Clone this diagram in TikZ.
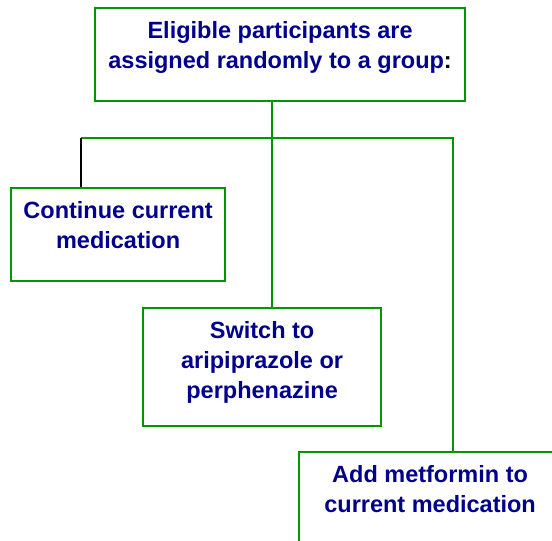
\documentclass[tikz,border=0pt]{standalone}
\usepackage{fontspec}
\setmainfont{Liberation Sans}
\usepackage{tikz}
\usetikzlibrary{positioning,calc}
\definecolor{boxgreen}{RGB}{0,150,0}
\definecolor{textblue}{RGB}{0,0,140}
\tikzset{
  group box/.style={
    draw=boxgreen,
    line width=2.2pt,
    fill=white,
    inner sep=0pt,
    anchor=north west
  },
  group text/.style={
    text=textblue,
    align=center,
    anchor=north,
    inner sep=0pt,
    font=\bfseries\fontsize{23.5}{30}\selectfont
  },
  link/.style={
    draw=boxgreen,
    line width=2.2pt
  }
}

\begin{document}
\begin{tikzpicture}[x=1pt,y=-1pt]
    \useasboundingbox (0,0) rectangle (552,541);
    \clip (0,0) rectangle (552,541);
    % boxes
    \node[group box,minimum width=370pt,minimum height=93pt] (start) at (94,7) {};
    \node[group box,minimum width=214pt,minimum height=93pt] (continue) at (10,187) {};
    \node[group box,minimum width=238pt,minimum height=118pt] (switch) at (142,307) {};
    \node[group box,minimum width=262pt,minimum height=110pt] (add) at (298,451) {};
    % texts
    \node[group text,below=14pt of start.north] (start_t) {Eligible participants are\\assigned randomly to a group\textcolor{black}{:}};
    \node[group text,below=14pt of continue.north] (continue_t) {Continue current\\medication};
    \node[group text,below=14pt of switch.north] (switch_t) {Switch to\\aripiprazole or\\perphenazine};
    \node[group text,below=14pt of add.north] (add_t) {Add metformin to\\current medication};
    % connectors
    \coordinate (fork) at (272,138);
    \coordinate (left end) at (81,138);
    \coordinate (right end) at (453,138);
    \draw[link] (fork |- start.south) -- (fork |- switch.north);
    \draw[link] (left end) -- (right end) -- (right end |- add.north);
    \draw[line width=2.2pt] (left end) -- (left end |- continue.north);
\end{tikzpicture}
\end{document}
